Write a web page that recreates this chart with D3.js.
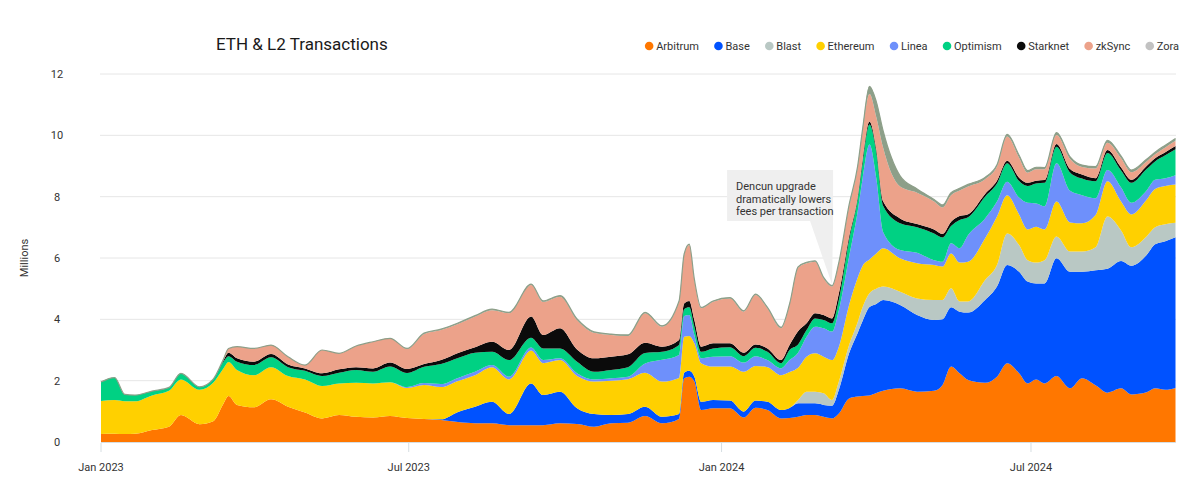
<!DOCTYPE html>
<html><head><meta charset="utf-8">
<script src="https://cdn.jsdelivr.net/npm/d3@7"></script>
<style>
body{margin:0;background:#fff;}
svg{font-family:Roboto,"Noto Sans",sans-serif;}
</style></head><body>
<svg id="chart" width="1200" height="490"></svg>
<script>
const dates = ["2023-01-01","2023-01-09","2023-01-15","2023-01-21","2023-01-31","2023-02-10","2023-02-17","2023-02-28","2023-03-08","2023-03-14",
"2023-03-17","2023-03-22","2023-04-01","2023-04-11","2023-04-21","2023-05-01","2023-05-11","2023-05-21","2023-05-31","2023-06-10",
"2023-06-20","2023-06-30","2023-07-10","2023-07-20","2023-07-30","2023-08-09","2023-08-19","2023-08-29","2023-09-11","2023-09-18",
"2023-09-28","2023-10-08","2023-10-18","2023-10-28","2023-11-07","2023-11-17","2023-11-27","2023-12-07","2023-12-10","2023-12-13",
"2023-12-16","2023-12-20","2023-12-27","2024-01-06","2024-01-14","2024-01-21","2024-01-28","2024-02-05","2024-02-10","2024-02-15",
"2024-02-20","2024-02-25","2024-03-01","2024-03-06","2024-03-10","2024-03-16","2024-03-21","2024-03-24","2024-03-28","2024-04-01",
"2024-04-05","2024-04-15","2024-04-25","2024-05-05","2024-05-10","2024-05-15","2024-05-20","2024-05-25","2024-06-04","2024-06-11",
"2024-06-17","2024-06-24","2024-06-29","2024-07-04","2024-07-09","2024-07-16","2024-07-24","2024-07-31","2024-08-08","2024-08-15",
"2024-08-23","2024-08-29","2024-09-07","2024-09-12","2024-09-18","2024-09-24"];

const arbitrum = [0.26,0.27,0.26,0.27,0.39,0.50,0.88,0.58,0.68,1.25,
1.50,1.21,1.13,1.39,1.15,0.96,0.77,0.88,0.82,0.80,
0.85,0.78,0.75,0.72,0.65,0.61,0.61,0.55,0.55,0.55,
0.61,0.59,0.50,0.61,0.63,0.85,0.61,0.75,2.08,2.13,
1.97,1.04,1.10,1.10,0.80,1.12,1.04,0.77,0.78,0.82,
0.88,0.88,0.82,0.77,0.93,1.42,1.48,1.50,1.52,1.60,
1.67,1.75,1.64,1.67,1.86,2.46,2.24,2.02,1.93,2.13,
2.57,2.24,1.91,2.04,1.91,2.15,1.75,2.08,1.85,1.61,
1.75,1.55,1.62,1.75,1.70,1.76];

const base = [0,0,0,0,0,0,0,0,0,0,
0,0,0,0,0,0,0,0,0,0,
0,0,0,0.02,0.33,0.54,0.70,0.36,1.36,0.98,
1.03,0.51,0.41,0.27,0.28,0.30,0.21,0.16,0.18,0.19,
0.16,0.27,0.27,0.25,0.19,0.23,0.27,0.27,0.33,0.44,
0.38,0.38,0.39,0.41,0.77,1.47,2.07,2.45,2.88,2.90,
2.96,2.72,2.50,2.31,2.14,1.93,2.01,2.20,2.70,2.94,
3.20,3.31,3.32,3.13,3.26,3.84,3.80,3.47,3.75,4.04,
4.15,4.20,4.48,4.70,4.85,4.92];

const blast = [0,0,0,0,0,0,0,0,0,0,
0,0,0,0,0,0,0,0,0,0,
0,0,0,0,0,0,0,0,0,0,
0,0,0,0,0,0,0,0,0,0,
0,0,0,0,0,0,0,0,0,0.11,
0.38,0.38,0.38,0.19,0.27,0.27,0.35,0.45,0.45,0.50,
0.44,0.43,0.54,0.65,0.63,0.62,0.33,0.36,0.65,0.70,
1.03,0.87,0.70,0.68,0.76,0.71,0.66,0.66,0.75,1.70,
1.00,0.60,0.60,0.55,0.55,0.47];

const ethereum = [1.08,1.10,1.07,1.06,1.13,1.17,1.16,1.12,1.25,1.15,
1.11,1.14,1.05,1.05,1.00,1.08,1.06,1.03,1.11,1.11,
1.10,0.98,1.11,1.05,1.01,1.03,1.13,1.13,1.07,1.04,
1.03,1.05,1.06,1.12,1.14,1.11,1.15,1.18,1.17,1.14,
1.09,1.26,1.09,1.11,1.30,1.13,1.13,1.14,1.17,1.05,
1.14,1.25,1.19,1.30,1.14,1.31,1.45,1.35,1.10,1.15,
1.25,1.09,1.15,1.14,1.09,1.14,1.27,1.30,1.36,1.58,
1.25,1.00,1.00,1.17,1.00,1.14,0.95,0.92,1.05,1.15,
0.94,1.07,1.20,1.25,1.25,1.25];

const linea = [0,0,0,0,0,0,0,0,0,0,
0,0,0,0,0,0,0,0,0,0,
0,0.03,0.06,0.10,0.10,0.11,0.07,0.09,0.10,0.10,
0.06,0.09,0.07,0.08,0.08,0.30,0.71,0.75,0.68,0.68,
0.27,0.16,0.32,0.34,0.30,0.32,0.23,0.22,0.39,0.49,
0.65,0.87,0.93,0.93,1.19,1.57,2.15,2.85,3.75,2.45,
0.53,0.27,0.34,0.16,0.16,0.33,0.47,0.87,0.65,0.49,
0.44,0.55,0.87,0.76,0.76,1.25,1.03,0.92,0.55,0.37,
0.46,0.38,0.30,0.30,0.25,0.30];

const optimism = [0.62,0.73,0.22,0.20,0.14,0.11,0.20,0.10,0.12,0.22,
0.19,0.27,0.33,0.32,0.29,0.28,0.32,0.35,0.42,0.38,
0.51,0.46,0.53,0.65,0.65,0.62,0.43,0.54,0.32,0.38,
0.32,0.38,0.25,0.27,0.31,0.34,0.26,0.32,0.22,0.25,
0.27,0.21,0.27,0.29,0.21,0.27,0.27,0.17,0.33,0.27,
0.22,0.27,0.27,0.27,0.33,0.55,0.40,0.50,0.65,0.85,
0.85,0.87,0.83,0.87,0.79,0.56,0.92,0.58,0.71,0.59,
0.60,0.54,0.55,0.65,0.76,0.54,0.60,0.54,0.55,0.55,
0.55,0.65,0.70,0.60,0.75,0.85];

const starknet = [0,0,0,0,0,0,0,0,0,0.04,
0.11,0.11,0.11,0.11,0.09,0.08,0.09,0.11,0.09,0.11,
0.13,0.13,0.09,0.13,0.16,0.18,0.33,0.33,0.69,0.44,
0.66,0.40,0.44,0.43,0.42,0.34,0.17,0.17,0.19,0.21,
0.22,0.17,0.17,0.13,0.11,0.11,0.11,0.10,0.16,0.43,
0.22,0.17,0.16,0.16,0.22,0.10,0.07,0.12,0.10,0.10,
0.15,0.16,0.11,0.13,0.11,0.14,0.13,0.10,0.09,0.09,
0.08,0.11,0.10,0.09,0.09,0.09,0.11,0.13,0.10,0.10,
0.10,0.10,0.10,0.10,0.10,0.10];

const zksync = [0,0,0,0,0,0,0,0,0,0.04,
0.14,0.38,0.43,0.29,0.25,0.11,0.76,0.52,0.69,0.87,
0.79,0.65,0.98,0.98,0.95,1.00,1.03,1.20,1.03,1.08,
1.03,0.96,0.83,0.71,0.60,0.96,0.65,1.24,1.58,1.82,
1.30,1.25,1.35,1.46,1.34,1.61,1.31,1.04,1.31,2.07,
1.96,1.68,1.20,1.04,0.98,0.98,0.95,0.93,0.90,1.05,
1.75,1.04,1.02,0.91,0.87,0.87,0.83,0.90,0.48,0.46,
0.79,0.65,0.33,0.37,0.35,0.29,0.33,0.25,0.32,0.24,
0.30,0.25,0.15,0.13,0.15,0.17];

const zora = [0,0,0,0,0,0,0,0,0,0,
0,0,0,0,0,0,0,0,0,0,
0,0.02,0.03,0.03,0.03,0.03,0.03,0.03,0.03,0.03,
0.03,0.03,0.03,0.03,0.03,0.03,0.03,0.03,0.03,0.03,
0.03,0.03,0.03,0.03,0.03,0.03,0.03,0.03,0.03,0.03,
0.03,0.03,0.03,0.03,0.03,0.06,0.06,0.07,0.25,0.50,
0.55,0.35,0.12,0.07,0.08,0.08,0.07,0.07,0.06,0.06,
0.07,0.08,0.07,0.07,0.06,0.08,0.07,0.06,0.06,0.08,
0.07,0.07,0.07,0.07,0.08,0.08];

const seriesNames = ["Arbitrum","Base","Blast","Ethereum","Linea","Optimism","Starknet","zkSync","Zora"];
const seriesValues = [arbitrum,base,blast,ethereum,linea,optimism,starknet,zksync,zora];
const areaColors = ["#ff7700","#0052ff","#b9c8c4","#ffd000","#6e90fb","#00d183","#0b0b0b","#eca28a","#8d9f89"];
const legendColors = ["#ff7700","#0052ff","#b9c8c4","#ffd000","#6e90fb","#00d183","#0b0b0b","#eca28a","#c2c2c2"];
const yTicks = [0,2,4,6,8,10,12];
const xTickDates = ["2023-01-01","2023-07-01","2024-01-01","2024-07-01"];
const xTickLabels = ["Jan 2023","Jul 2023","Jan 2024","Jul 2024"];
const titleText = "ETH & L2 Transactions";
const yAxisTitle = "Millions";
const annotationDate = "2024-03-06";
const annotationLines = ["Dencun upgrade","dramatically lowers","fees per transaction"];

const parse = d3.timeParse("%Y-%m-%d");
const rows = dates.map((d,i)=>{
  const r = {date: parse(d)};
  seriesNames.forEach((n,k)=>{ r[n] = seriesValues[k][i]; });
  return r;
});

const svg = d3.select("#chart");
const x = d3.scaleTime().domain([parse("2023-01-01"), parse("2024-09-24")]).range([101, 1175.5]);
const y = d3.scaleLinear().domain([0,12]).range([442, 74]);

// grid
svg.append("g").selectAll("line").data(yTicks.filter(t=>t>0)).join("line")
  .attr("x1",100).attr("x2",1176).attr("y1",d=>y(d)).attr("y2",d=>y(d))
  .attr("stroke","#e6e6e6").attr("stroke-width",1);

// y labels
svg.append("g").selectAll("text").data(yTicks).join("text")
  .attr("x",57).attr("y",d=>y(d)).attr("dy","0.35em").attr("text-anchor","middle")
  .attr("font-size",11).attr("fill","#333").text(d=>d);

svg.append("text").attr("transform","translate(28,258) rotate(-90)")
  .attr("text-anchor","middle").attr("font-size",11).attr("fill","#333").text(yAxisTitle);

// stack
const stack = d3.stack().keys(seriesNames);
const layers = stack(rows);
const area = d3.area().curve(d3.curveMonotoneX)
  .x(d=>x(d.data.date)).y0(d=>y(d[0])).y1(d=>y(d[1]));
svg.append("g").selectAll("path").data(layers).join("path")
  .attr("d",area).attr("fill",(d,i)=>areaColors[i]);

// top outline
const topLine = d3.line().curve(d3.curveMonotoneX).x(d=>x(d.data.date)).y(d=>y(d[1]));
svg.append("path").datum(layers[layers.length-1]).attr("d",topLine)
  .attr("fill","none").attr("stroke","#8d9f89").attr("stroke-width",1.2);

// x axis baseline & ticks
svg.append("line").attr("x1",101).attr("x2",1176).attr("y1",442.5).attr("y2",442.5)
  .attr("stroke","#d6dee2").attr("stroke-width",1);
const xg = svg.append("g");
xTickDates.forEach((d,i)=>{
  const xx = x(parse(d));
  xg.append("line").attr("x1",xx).attr("x2",xx).attr("y1",443).attr("y2",452)
    .attr("stroke","#d6dee2").attr("stroke-width",1);
  xg.append("text").attr("x",xx).attr("y",471).attr("text-anchor","middle")
    .attr("font-size",11).attr("fill","#333").text(xTickLabels[i]);
});

// title
svg.append("text").attr("x",216).attr("y",50).attr("font-size",17).attr("fill","#1a1a1a").text(titleText);

// legend
const lg = svg.append("g").attr("transform","translate(0,46)");
const items = lg.selectAll("g").data(seriesNames).join("g");
items.append("circle").attr("r",4.3).attr("fill",(d,i)=>legendColors[i]);
items.append("text").attr("x",7).attr("dy","0.35em").attr("font-size",11).attr("fill","#333").text(d=>d);
const widths = items.nodes().map(n=>n.querySelector("text").getComputedTextLength());
const gap = 19.5;
const total = widths.reduce((a,b)=>a+b,0) + 7*widths.length + gap*(widths.length-1);
let cx = 1179 - total;
items.each(function(d,i){
  d3.select(this).attr("transform",`translate(${cx},0)`);
  cx += 7 + widths[i] + gap;
});

// annotation
const ai = dates.indexOf(annotationDate);
const tipX = x(parse(annotationDate));
const tipY = y(d3.sum(seriesValues, s=>s[ai])) - 1;
const boxR = tipX + 1, boxL = boxR - 106, boxT = 170, boxB = 221;
const ann = svg.append("g");
ann.append("path")
  .attr("d",`M${boxL},${boxT}H${boxR}V${boxB}L${tipX},${tipY}L${boxR-23},${boxB}H${boxL}Z`)
  .attr("fill","#efefef");
ann.selectAll("text").data(annotationLines).join("text")
  .attr("x",boxL+9).attr("y",(d,i)=>boxT+20+i*12.5)
  .attr("font-size",11).attr("fill","#333").text(d=>d);
</script>
</body></html>
